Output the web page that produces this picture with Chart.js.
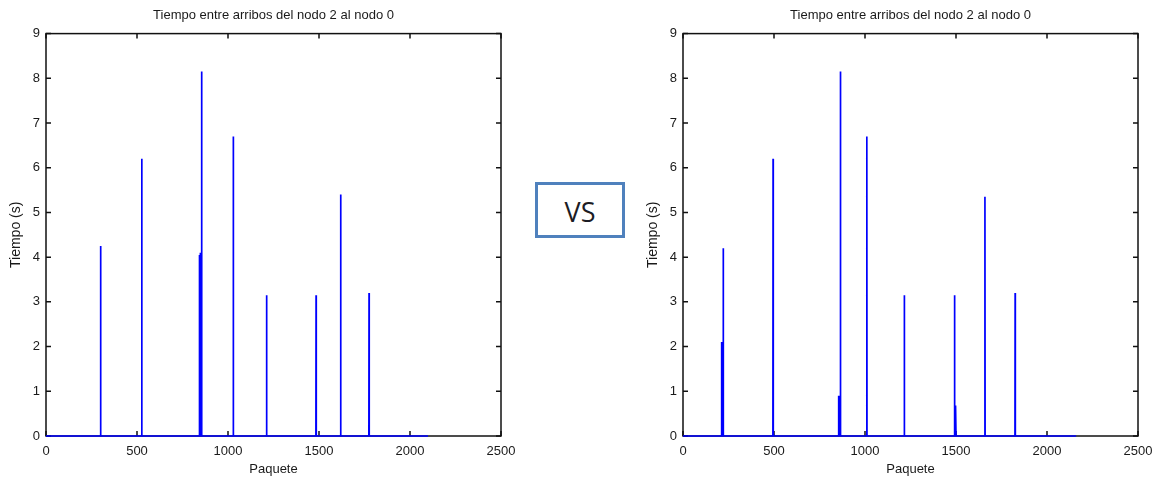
<!DOCTYPE html>
<html>
<head>
<meta charset="utf-8">
<script src="https://cdn.jsdelivr.net/npm/chart.js@4"></script>
<style>
  body { margin:0; background:#fff; width:1166px; height:483px; position:relative; overflow:hidden; }
  canvas { position:absolute; top:0; }
  #vs {
    position:absolute; left:535px; top:182px; width:90px; height:56px; box-sizing:border-box;
    border:3px solid #4f81bd; font-family:"Open Sans", sans-serif; font-size:27px; color:#1c1c24;
    display:flex; align-items:center; justify-content:center; padding-top:3px;
  }
</style>
</head>
<body>
<canvas id="chartA" width="520" height="483" style="left:0px"></canvas>
<div id="vs">VS</div>
<canvas id="chartB" width="520" height="483" style="left:637px"></canvas>
<script>
// axis ticks
var xTicks = [0, 500, 1000, 1500, 2000, 2500];
var yTicks = [0, 1, 2, 3, 4, 5, 6, 7, 8, 9];

// left plot: packet index of each spike and its inter-arrival time
var leftPackets = [300, 526, 843, 848, 855, 1029, 1212, 1484, 1619, 1775];
var leftTimes   = [4.25, 6.2, 4.05, 4.1, 8.15, 6.7, 3.15, 3.15, 5.4, 3.2];
var leftLast = 2099;

// right plot
var rightPackets = [212, 216, 221, 495, 855, 859, 865, 1010, 1216, 1492, 1496, 1499, 1659, 1825];
var rightTimes   = [2.1, 2.1, 4.2, 6.2, 0.9, 0.9, 8.15, 6.7, 3.15, 3.15, 0.68, 0.68, 5.35, 3.2];
var rightLast = 2160;

var titleText = 'Tiempo entre arribos del nodo 2 al nodo 0';
var font = { family: '"Liberation Sans", Arial, sans-serif', size: 13, weight: 'normal' };
var axisTitleFont = { family: '"Liberation Sans", Arial, sans-serif', size: 14, weight: 'normal' };
var txtColor = '#1a1a1a';

function buildPoints(packets, times, last){
    var pts = [{x:0, y:0}];
    for(var i=0;i<packets.length;i++){
        pts.push({x:packets[i]-1, y:0});
        pts.push({x:packets[i], y:times[i]});
        pts.push({x:packets[i]+1, y:0});
    }
    pts.push({x:last, y:0});
    return pts;
}

// box around the axes with inward tick marks (MATLAB style)
var boxPlugin = {
    id: 'box',
    beforeDatasetsDraw: function(chart){
        var ctx = chart.ctx, a = chart.chartArea;
        var xs = chart.scales.x, ys = chart.scales.y, len = 5;
        ctx.save();
        ctx.strokeStyle = '#111';
        ctx.lineWidth = 1.5;
        ctx.strokeRect(a.left, a.top, a.right - a.left, a.bottom - a.top);
        ctx.beginPath();
        xTicks.forEach(function(v){
            var px = xs.getPixelForValue(v);
            ctx.moveTo(px, a.bottom); ctx.lineTo(px, a.bottom - len);
            ctx.moveTo(px, a.top); ctx.lineTo(px, a.top + len);
        });
        yTicks.forEach(function(v){
            var py = ys.getPixelForValue(v);
            ctx.moveTo(a.left, py); ctx.lineTo(a.left + len, py);
            ctx.moveTo(a.right, py); ctx.lineTo(a.right - len, py);
        });
        ctx.stroke();
        ctx.restore();
    }
};

function makeChart(id, packets, times, last){
    return new Chart(document.getElementById(id), {
        type: 'line',
        data: {
            datasets: [{
                data: buildPoints(packets, times, last),
                borderColor: '#0000ff',
                borderWidth: 1.7,
                pointRadius: 0,
                tension: 0,
                clip: 4
            }]
        },
        options: {
            responsive: false,
            animation: false,
            devicePixelRatio: 1,
            layout: { padding: { left: 0, right: 19, top: 0, bottom: 0 } },
            plugins: {
                legend: { display: false },
                tooltip: { enabled: false },
                title: {
                    display: true, text: titleText, fullSize: false,
                    font: font, color: txtColor,
                    padding: { top: 8, bottom: 10 }
                }
            },
            scales: {
                x: {
                    type: 'linear', min: 0, max: 2500,
                    afterBuildTicks: function(s){ s.ticks = xTicks.map(function(v){ return {value:v}; }); },
                    afterFit: function(s){ s.height = 47; s.paddingLeft = 0; s.paddingRight = 0; },
                    grid: { display: false, drawTicks: false },
                    border: { display: false },
                    ticks: { font: font, color: txtColor, padding: 8, maxRotation: 0,
                             callback: function(v){ return String(v); } },
                    title: { display: true, text: 'Paquete', font: font, color: txtColor, padding: { top: 0, bottom: 6 } }
                },
                y: {
                    type: 'linear', min: 0, max: 9,
                    afterBuildTicks: function(s){ s.ticks = yTicks.map(function(v){ return {value:v}; }); },
                    afterFit: function(s){ s.width = 46; s.paddingTop = 0; s.paddingBottom = 0; },
                    grid: { display: false, drawTicks: false },
                    border: { display: false },
                    ticks: { font: font, color: txtColor, padding: 6 },
                    title: { display: true, text: 'Tiempo (s)', font: axisTitleFont, color: txtColor, padding: { top: 8, bottom: 0 } }
                }
            }
        },
        plugins: [boxPlugin]
    });
}

document.addEventListener('DOMContentLoaded', function(){
    makeChart('chartA', leftPackets, leftTimes, leftLast);
    makeChart('chartB', rightPackets, rightTimes, rightLast);
});
</script>
</body>
</html>
